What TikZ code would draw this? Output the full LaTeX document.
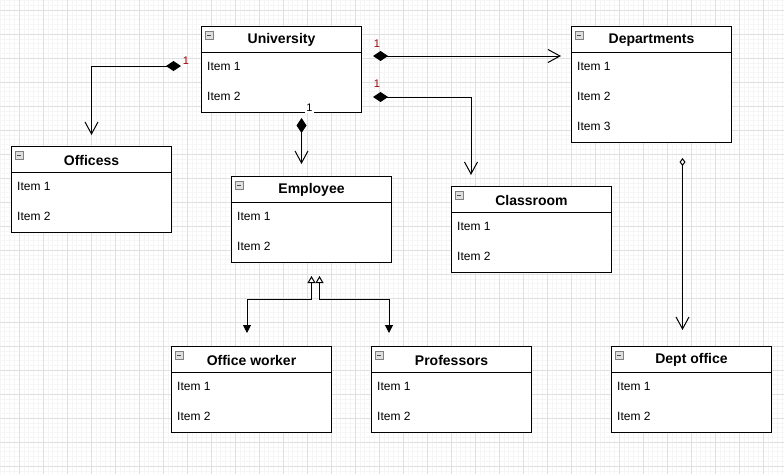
\documentclass[tikz,border=0pt]{standalone}
\usepackage{fontspec}
\setmainfont{Liberation Sans}
\usetikzlibrary{arrows.meta,calc}
\definecolor{gridmajor}{HTML}{E0E0E0}
\definecolor{gridminor}{HTML}{F6F6F6}
\definecolor{multred}{HTML}{990000}
\tikzset{
  classbox/.style={draw,line width=1pt,fill=white,minimum width=160pt,minimum height=86pt,inner sep=0pt,anchor=north west},
  classtitle/.style={font=\fontsize{14}{16}\selectfont\bfseries,inner sep=0pt},
  classitem/.style={font=\fontsize{12}{14}\selectfont,anchor=west,inner sep=0pt},
  iconbox/.style={draw=gray,fill=gray!25,line width=0.8pt,minimum size=8pt,inner sep=0pt,anchor=north west,
    path picture={\draw[line width=0.8pt,black!70] ([xshift=2pt]path picture bounding box.west) -- ([xshift=-2pt]path picture bounding box.east);}},
  divider/.style={line width=1pt},
  mult/.style={font=\fontsize{11}{12}\selectfont,text=multred,inner sep=1pt},
  comp/.style={line width=1pt,{Diamond[length=15pt,width=10pt]}-{Straight Barb[length=12pt,width=13pt]}},
  agg/.style={line width=1pt,{Diamond[open,length=8pt,width=6pt,fill=white]}-{Straight Barb[length=12pt,width=13pt]}},
  gen/.style={line width=1pt,{Triangle[open,length=7pt,width=8pt,fill=white]}-{Triangle[length=8pt,width=8pt]}}
}
\begin{document}
\begin{tikzpicture}[x=1pt,y=-1pt]
\useasboundingbox[fill=white] (0,0) rectangle (784,474);
% Grid
\foreach \gx in {-0.2,4.6,...,784} \draw[gridminor,line width=0.6pt] (\gx,0) -- (\gx,474);
\foreach \gy in {0.4,5.2,...,474} \draw[gridminor,line width=0.6pt] (0,\gy) -- (784,\gy);
\foreach \gx in {19,43,...,784} \draw[gridmajor,line width=0.8pt] (\gx,0) -- (\gx,474);
\foreach \gy in {10,34,...,474} \draw[gridmajor,line width=0.8pt] (0,\gy) -- (784,\gy);

% University
\node[classbox] (uni) at (201,26) {};
\node[iconbox] (uniicon) at ($(uni.north west)+(4,5)$) {};
\node[classtitle] (unititle) at ($(uni.north)+(0,14)$) {University};
\draw[divider] ($(uni.north west)+(0,26)$) -- ($(uni.north east)+(0,26)$);
\node[classitem] (uni1) at ($(uni.north west)+(6,40)$) {Item 1};
\node[classitem] (uni2) at ($(uni.north west)+(6,70)$) {Item 2};

% Departments
\node[classbox,minimum height=116pt] (dep) at (571,26) {};
\node[iconbox] (depicon) at ($(dep.north west)+(4,5)$) {};
\node[classtitle] (deptitle) at ($(dep.north)+(0,14)$) {Departments};
\draw[divider] ($(dep.north west)+(0,26)$) -- ($(dep.north east)+(0,26)$);
\node[classitem] (dep1) at ($(dep.north west)+(6,40)$) {Item 1};
\node[classitem] (dep2) at ($(dep.north west)+(6,70)$) {Item 2};
\node[classitem] (dep3) at ($(dep.north west)+(6,100)$) {Item 3};

% Officess
\node[classbox] (off) at (11,146) {};
\node[iconbox] (officon) at ($(off.north west)+(4,5)$) {};
\node[classtitle] (offtitle) at ($(off.north)+(0,14)$) {Officess};
\draw[divider] ($(off.north west)+(0,26)$) -- ($(off.north east)+(0,26)$);
\node[classitem] (off1) at ($(off.north west)+(6,40)$) {Item 1};
\node[classitem] (off2) at ($(off.north west)+(6,70)$) {Item 2};

% Employee
\node[classbox] (emp) at (231,176) {};
\node[iconbox] (empicon) at ($(emp.north west)+(4,5)$) {};
\node[classtitle] (emptitle) at ($(emp.north)+(0,14)$) {Employee};
\draw[divider] ($(emp.north west)+(0,26)$) -- ($(emp.north east)+(0,26)$);
\node[classitem] (emp1) at ($(emp.north west)+(6,40)$) {Item 1};
\node[classitem] (emp2) at ($(emp.north west)+(6,70)$) {Item 2};

% Classroom
\node[classbox] (cls) at (451,186) {};
\node[iconbox] (clsicon) at ($(cls.north west)+(4,5)$) {};
\node[classtitle] (clstitle) at ($(cls.north)+(0,14)$) {Classroom};
\draw[divider] ($(cls.north west)+(0,26)$) -- ($(cls.north east)+(0,26)$);
\node[classitem] (cls1) at ($(cls.north west)+(6,40)$) {Item 1};
\node[classitem] (cls2) at ($(cls.north west)+(6,70)$) {Item 2};

% Office worker
\node[classbox] (ow) at (171,346) {};
\node[iconbox] (owicon) at ($(ow.north west)+(4,5)$) {};
\node[classtitle] (owtitle) at ($(ow.north)+(0,14)$) {Office worker};
\draw[divider] ($(ow.north west)+(0,26)$) -- ($(ow.north east)+(0,26)$);
\node[classitem] (ow1) at ($(ow.north west)+(6,40)$) {Item 1};
\node[classitem] (ow2) at ($(ow.north west)+(6,70)$) {Item 2};

% Professors
\node[classbox] (prof) at (371,346) {};
\node[iconbox] (proficon) at ($(prof.north west)+(4,5)$) {};
\node[classtitle] (proftitle) at ($(prof.north)+(0,14)$) {Professors};
\draw[divider] ($(prof.north west)+(0,26)$) -- ($(prof.north east)+(0,26)$);
\node[classitem] (prof1) at ($(prof.north west)+(6,40)$) {Item 1};
\node[classitem] (prof2) at ($(prof.north west)+(6,70)$) {Item 2};

% Dept office
\node[classbox] (dof) at (611,346) {};
\node[iconbox] (doficon) at ($(dof.north west)+(4,5)$) {};
\node[classtitle] (doftitle) at ($(dof.north)+(0,14)$) {Dept office};
\draw[divider] ($(dof.north west)+(0,26)$) -- ($(dof.north east)+(0,26)$);
\node[classitem] (dof1) at ($(dof.north west)+(6,40)$) {Item 1};
\node[classitem] (dof2) at ($(dof.north west)+(6,70)$) {Item 2};

% Composition from University
\draw[comp] ($(uni.north west)+(-20,40)$) -| ($(off.north)+(0,-11)$);
\draw[comp] ($(uni.north east)+(11,30)$) -- ($(dep.north west)+(-10,30)$);
\draw[comp] ($(uni.north east)+(11,71)$) -| ($(cls.north west)+(20,-11)$);
\draw[comp] ($(uni.south)+(20,5)$) -- ($(emp.north)+(-10,-12)$);

% Generalization of Employee
\draw[gen] ($(emp.south)+(0,13)$) -- ++(0,23) -| ($(ow.north west)+(76,-13)$);
\draw[gen] ($(emp.south)+(8,13)$) -- ++(0,23) -| ($(prof.north west)+(18,-13)$);

% Aggregation Departments - Dept office
\draw[agg] ($(dep.south)+(31,15)$) -- ($(dof.north)+(-9,-16)$);

% Multiplicities
\node[mult] (m1) at ($(uni.north west)+(-15,35)$) {1};
\node[mult] (m2) at ($(uni.north east)+(15,18)$) {1};
\node[mult] (m3) at ($(uni.north east)+(15,58)$) {1};
\node[mult,text=black,fill=white] (m4) at ($(uni.south)+(28,-5)$) {1};
\end{tikzpicture}
\end{document}
